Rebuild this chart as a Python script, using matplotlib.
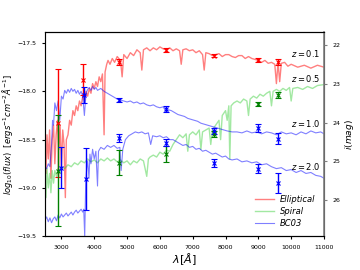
import matplotlib
matplotlib.use('Agg')
import matplotlib.pyplot as plt

# template spectra (observed wavelength, log10 flux)
ell_wl = [2500, 2530, 2560, 2600, 2640, 2680, 2720, 2760, 2800, 2840, 2880, 2920, 2960, 3000,
          3040, 3080, 3120, 3150, 3200, 3250, 3300, 3350, 3400, 3450, 3500, 3550, 3600, 3650,
          3700, 3750, 3800, 3850, 3900, 3950, 4000, 4050, 4100, 4150, 4200, 4250, 4300, 4330,
          4380, 4420, 4480, 4550, 4620, 4700, 4800, 4850, 4900, 5000, 5100, 5200, 5300, 5400,
          5450, 5500, 5600, 5700, 5800, 5900, 6000, 6100, 6200, 6300, 6400, 6500, 6600, 6650,
          6700, 6800, 6900, 7000, 7100, 7200, 7300, 7350, 7400, 7500, 7600, 7700, 7800, 7900,
          8000, 8100, 8200, 8300, 8400, 8500, 8600, 8700, 8800, 8900, 9000, 9100, 9200, 9300,
          9400, 9500, 9550, 9600, 9650, 9700, 9800, 9900, 10000, 10200, 10400, 10600, 10800, 11000]
ell_flux = [-18.55, -18.85, -18.45, -18.7, -18.4, -18.9, -18.5, -18.35, -18.75, -18.45, -18.3,
            -18.6, -18.35, -18.8, -18.4, -18.55, -19.1, -18.5, -18.45, -18.3, -18.35, -18.2,
            -18.25, -18.15, -18.2, -18.1, -18.15, -18.05, -18.1, -18.0, -18.05, -17.97, -18.02,
            -17.92, -17.97, -17.9, -17.95, -17.85, -17.9, -17.82, -18.45, -17.8, -17.72, -17.68,
            -17.72, -17.66, -17.7, -17.64, -17.68, -17.85, -17.62, -17.66, -17.6, -17.63, -17.57,
            -17.6, -17.78, -17.57, -17.55, -17.58, -17.55, -17.57, -17.54, -17.56, -17.57, -17.55,
            -17.58, -17.56, -17.58, -17.72, -17.57, -17.56, -17.58, -17.57, -17.6, -17.58, -17.62,
            -17.78, -17.6, -17.61, -17.63, -17.62, -17.61, -17.64, -17.62, -17.62, -17.64, -17.65,
            -17.63, -17.63, -17.66, -17.64, -17.66, -17.67, -17.68, -17.7, -17.68, -17.71, -17.7,
            -17.72, -17.92, -17.7, -17.9, -17.71, -17.7, -17.74, -17.72, -17.75, -17.73, -17.76,
            -17.73, -17.75]

sp_wl = [2500, 2530, 2560, 2600, 2640, 2680, 2720, 2760, 2800, 2850, 2900, 2950, 3000, 3100,
         3200, 3300, 3400, 3500, 3600, 3700, 3800, 3900, 4000, 4100, 4200, 4300, 4400, 4500,
         4600, 4700, 4800, 4900, 5000, 5100, 5200, 5300, 5400, 5500, 5600, 5650, 5700, 5800,
         5900, 6000, 6100, 6200, 6300, 6400, 6500, 6600, 6700, 6800, 6850, 6900, 7000, 7100,
         7200, 7250, 7300, 7400, 7500, 7550, 7600, 7700, 7800, 7850, 7900, 8000, 8050, 8100,
         8130, 8170, 8250, 8350, 8450, 8550, 8650, 8700, 8750, 8850, 8950, 9050, 9150, 9250,
         9350, 9400, 9450, 9550, 9650, 9750, 9850, 9950, 10000, 10050, 10200, 10350, 10500,
         10650, 10800, 11000]
sp_flux = [-18.85, -19.1, -18.8, -19.0, -18.85, -19.05, -18.82, -18.95, -18.82, -18.88, -18.8,
           -18.84, -18.78, -18.8, -18.76, -18.78, -18.74, -18.76, -18.72, -18.74, -18.7, -18.73,
           -18.71, -18.74, -18.7, -18.72, -18.69, -18.72, -18.7, -18.73, -18.71, -18.74, -18.72,
           -18.76, -18.72, -18.74, -18.7, -18.72, -18.88, -18.7, -18.68, -18.66, -18.68, -18.63,
           -18.65, -18.61, -18.62, -18.55, -18.5, -18.45, -18.48, -18.44, -18.62, -18.45, -18.42,
           -18.45, -18.4, -18.6, -18.42, -18.4, -18.38, -18.55, -18.4, -18.35, -18.3, -18.5,
           -18.25, -18.2, -18.3, -18.15, -18.7, -18.15, -18.12, -18.1, -18.12, -18.08, -18.1,
           -18.25, -18.08, -18.05, -18.07, -18.03, -18.05, -18.02, -18.0, -18.15, -18.0, -17.98,
           -18.0, -17.97, -17.99, -17.96, -18.1, -17.97, -17.96, -17.98, -17.95, -17.97, -17.94,
           -17.93]

bc1_wl = [2500, 2550, 2600, 2650, 2700, 2730, 2760, 2800, 2850, 2900, 2950, 3000, 3050, 3100,
          3150, 3200, 3250, 3300, 3350, 3400, 3450, 3500, 3550, 3600, 3650, 3700, 3750, 3800,
          3850, 3900, 3950, 4000, 4050, 4100, 4200, 4300, 4400, 4500, 4600, 4700, 4800, 4900,
          5000, 5100, 5200, 5300, 5400, 5500, 5600, 5700, 5800, 5900, 6000, 6100, 6200, 6250,
          6350, 6450, 6550, 6650, 6750, 6850, 6950, 7050, 7150, 7250, 7350, 7450, 7550, 7650,
          7750, 7850, 7950, 8050, 8200, 8350, 8500, 8650, 8800, 8950, 9100, 9250, 9400, 9550,
          9700, 9850, 10000, 10150, 10300, 10450, 10600, 10750, 10900, 11000]
bc1_flux = [-18.78, -18.8, -18.75, -18.78, -18.55, -18.3, -18.35, -18.12, -18.2, -18.1, -18.3,
            -18.05, -18.08, -17.99, -18.02, -17.98, -18.01, -17.97, -18.0, -17.98, -18.02, -17.99,
            -18.03, -18.0, -18.05, -18.25, -18.02, -17.98, -17.96, -17.99, -17.95, -17.98, -17.96,
            -17.99, -17.97, -18.0, -18.02, -18.04, -18.06, -18.08, -18.09, -18.1, -18.11, -18.1,
            -18.12, -18.11, -18.13, -18.12, -18.14, -18.15, -18.14, -18.16, -18.17, -18.16, -18.22,
            -18.19, -18.2, -18.22, -18.24, -18.25, -18.26, -18.28, -18.29, -18.3, -18.31, -18.33,
            -18.34, -18.35, -18.36, -18.37, -18.38, -18.39, -18.4, -18.41, -18.42, -18.42, -18.43,
            -18.41, -18.43, -18.42, -18.44, -18.42, -18.43, -18.45, -18.42, -18.44, -18.43, -18.45,
            -18.42, -18.44, -18.41, -18.43, -18.42, -18.44]

bc2_wl = [2500, 2550, 2600, 2650, 2700, 2750, 2800, 2850, 2900, 2950, 3000, 3050, 3100, 3150,
          3200, 3250, 3300, 3350, 3400, 3450, 3500, 3550, 3600, 3650, 3680, 3710, 3740, 3770,
          3800, 3840, 3870, 3900, 3950, 4000, 4050, 4100, 4130, 4200, 4300, 4400, 4500, 4600,
          4700, 4780, 4820, 4870, 4950, 5050, 5150, 5250, 5350, 5450, 5550, 5650, 5720, 5780,
          5900, 6000, 6100, 6200, 6300, 6400, 6500, 6600, 6700, 6800, 6900, 7000, 7100, 7200,
          7300, 7400, 7500, 7600, 7700, 7800, 7900, 8000, 8100, 8200, 8350, 8500, 8650, 8800,
          8950, 9100, 9250, 9400, 9550, 9700, 9850, 10000, 10150, 10300, 10450, 10600, 10750,
          10900, 11000]
bc2_flux = [-19.33, -19.3, -19.35, -19.31, -19.36, -19.32, -19.3, -19.34, -19.28, -19.31, -19.27,
            -19.3, -19.28, -19.26, -19.29, -19.27, -19.25, -19.28, -19.25, -19.23, -19.26, -19.24,
            -19.22, -19.25, -19.22, -19.5, -18.95, -18.8, -18.72, -18.9, -18.65, -18.75, -18.6,
            -18.7, -18.62, -18.98, -18.62, -18.58, -18.6, -18.56, -18.58, -18.56, -18.59, -18.58,
            -18.82, -18.6, -18.5, -18.46, -18.44, -18.42, -18.43, -18.42, -18.44, -18.43, -18.55,
            -18.46, -18.47, -18.46, -18.48, -18.47, -18.5, -18.5, -18.52, -18.54, -18.56, -18.55,
            -18.58, -18.57, -18.6, -18.59, -18.62, -18.61, -18.63, -18.65, -18.64, -18.66, -18.68,
            -18.67, -18.7, -18.71, -18.7, -18.73, -18.72, -18.74, -18.73, -18.76, -18.75, -18.78,
            -18.8, -18.79, -18.82, -18.81, -18.84, -18.82, -18.85, -18.84, -18.87, -18.88, -18.9]

# photometric points (band centres)
band_wl = [2900, 3650, 4750, 6200, 7650, 9000, 9600]
ell_pts = [-18.33, -17.88, -17.70, -17.57, -17.63, -17.68, -17.70]
ell_err = [0.56, 0.16, 0.03, 0.02, 0.015, 0.02, 0.03]
sp_wl_pts = [2900, 4750, 6200, 7650, 9000, 9600]
sp_pts = [-18.82, -18.74, -18.65, -18.44, -18.13, -18.04]
sp_err = [0.57, 0.13, 0.08, 0.03, 0.02, 0.03]
bc1_wl_pts = [3700, 4750, 6200, 7650, 9000, 9600]
bc1_pts = [-18.04, -18.09, -18.18, -18.41, -18.38, -18.49]
bc1_err = [0.08, 0.02, 0.03, 0.03, 0.04, 0.06]
bc2_wl_pts = [3000, 3750, 4750, 6200, 7650, 9000, 9600]
bc2_pts = [-18.79, -18.91, -18.48, -18.53, -18.74, -18.80, -18.95]
bc2_err = [0.21, 0.32, 0.04, 0.04, 0.04, 0.05, 0.10]

z_labels = ['$z=0.1$', '$z=0.5$', '$z=1.0$', '$z=2.0$']
z_ypos = [-17.61, -17.87, -18.33, -18.78]

fig, ax = plt.subplots(figsize=(3.6, 2.7), dpi=100)
fig.subplots_adjust(left=0.125, right=0.9, top=0.88, bottom=0.125)

ax.plot(ell_wl, ell_flux, color='r', alpha=0.5, lw=1, label='Elliptical')
ax.plot(sp_wl, sp_flux, color='limegreen', alpha=0.45, lw=1, label='Spiral')
ax.plot(bc1_wl, bc1_flux, color='b', alpha=0.5, lw=0.8, label='BC03')
ax.plot(bc2_wl, bc2_flux, color='b', alpha=0.5, lw=0.8)

ekw = dict(fmt='x', ms=2.5, mew=0.8, lw=1, capsize=2, capthick=1)
ax.errorbar(band_wl, ell_pts, yerr=ell_err, color='r', **ekw)
ax.errorbar(sp_wl_pts, sp_pts, yerr=sp_err, color='g', **ekw)
ax.errorbar(bc1_wl_pts, bc1_pts, yerr=bc1_err, color='b', **ekw)
ax.errorbar(bc2_wl_pts, bc2_pts, yerr=bc2_err, color='b', **ekw)

for lab, yy in zip(z_labels, z_ypos):
    ax.text(10000, yy, lab, fontsize=6, va='center', ha='left')

ax.set_xlim(2500, 11000)
ax.set_ylim(-19.5, -17.39)
ax.set_xticks(range(3000, 11001, 1000))
ax.set_yticks([-19.5, -19.0, -18.5, -18.0, -17.5])
ax.tick_params(labelsize=4.5, length=2.5)
ax.set_xlabel(r'$\lambda[\AA]$', fontsize=8, labelpad=1)
ax.set_ylabel(r'$log_{10}(flux)$  $[ergs^{-1}cm^{-2}\AA^{-1}]$', fontsize=6, labelpad=2)
ax.spines['left'].set_color('gray')
ax.legend(loc='lower right', frameon=False, prop={'style': 'italic', 'size': 6},
          handlelength=2.2, labelspacing=0.35, borderaxespad=0.6)

ax2 = ax.twinx()
ax2.set_ylim(26.94, 21.665)
ax2.set_yticks([22, 23, 24, 25, 26])
ax2.tick_params(labelsize=4.5, length=2.5, color='gray')
ax2.spines['right'].set_color('gray')
ax2.spines['right'].set_linewidth(1.2)
ax2.set_ylabel('$i(mag)$', fontsize=6.5, labelpad=2)

plt.savefig('out.png', dpi=100)
